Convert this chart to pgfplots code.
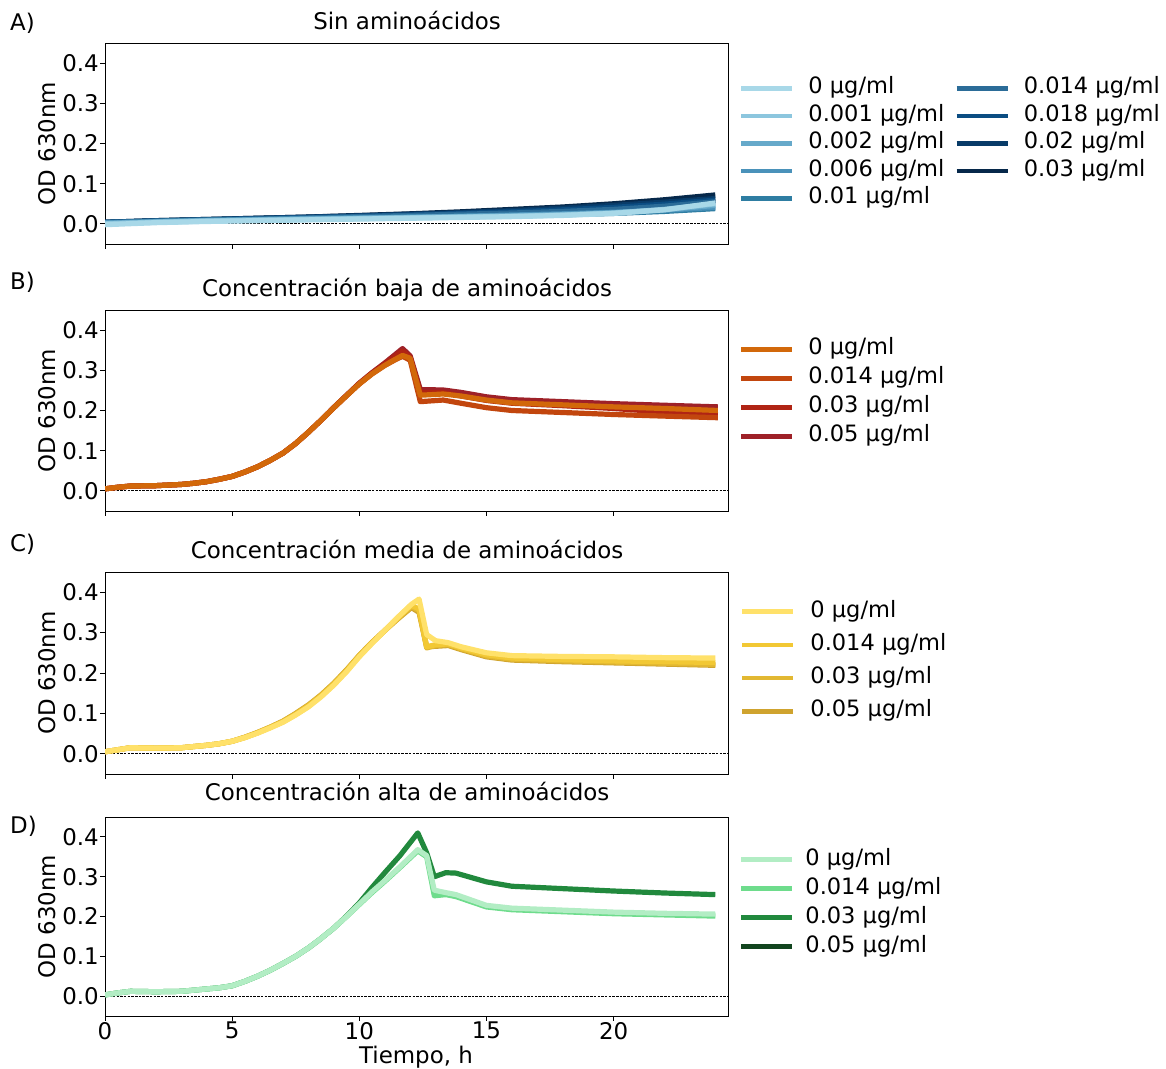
\documentclass[border=0pt]{standalone}
\usepackage{fontspec}
\setmainfont{DejaVu Sans}
\usepackage{pgfplots}
\pgfplotsset{compat=1.18}
\newcommand\fs{\fontsize{23}{27}\selectfont}
\newcommand\fl{\fontsize{22.6}{27}\selectfont}

% blues (no amino acids)
\definecolor{bA0}{HTML}{A8D8E8}
\definecolor{bA1}{HTML}{8CC6DE}
\definecolor{bA2}{HTML}{66A9CA}
\definecolor{bA3}{HTML}{4A92BA}
\definecolor{bA4}{HTML}{2E7DA2}
\definecolor{bA5}{HTML}{2B6C98}
\definecolor{bA6}{HTML}{0B4D82}
\definecolor{bA7}{HTML}{083B68}
\definecolor{bA8}{HTML}{06284A}
% oranges / reds (low)
\definecolor{oB0}{HTML}{D2680A}
\definecolor{oB1}{HTML}{C2460E}
\definecolor{oB2}{HTML}{B02414}
\definecolor{oB3}{HTML}{9E2128}
% yellows (medium)
\definecolor{yC0}{HTML}{FFE16A}
\definecolor{yC1}{HTML}{F2C834}
\definecolor{yC2}{HTML}{E2B832}
\definecolor{yC3}{HTML}{CFA32E}
% greens (high)
\definecolor{gD0}{HTML}{B2EDC4}
\definecolor{gD1}{HTML}{6EDC8C}
\definecolor{gD2}{HTML}{21893D}
\definecolor{gD3}{HTML}{12451F}

\pgfplotsset{
  panel/.style={
    scale only axis, width=623bp,
    xmin=0, xmax=24.5, ymin=-0.05, ymax=0.45,
    tick pos=left, tick align=outside,
    major tick length=5bp,
    every tick/.style={black, line width=0.8bp},
    axis line style={black, line width=0.9bp},
    xtick={0,5,10,15,20},
    ytick={0,0.1,0.2,0.3,0.4},
    yticklabels={0.0,0.1,0.2,0.3,0.4},
    xticklabels={},
    ticklabel style={font=\fs},
    yticklabel style={inner xsep=1bp},
    xticklabel style={inner ysep=1bp},
    /pgf/number format/assume math mode=true,
    clip=true,
    legend cell align=left,
    legend image code/.code={\draw[##1, line width=4.4bp] (0bp,0bp) -- (51bp,0bp);},
    legend style={draw=none, fill=none, inner sep=0pt, outer sep=0pt, font=\fl,
      anchor=north west,
      nodes={inner sep=0pt, outer sep=0pt, text height=16bp, text depth=5bp},
      column sep=0bp,
      /tikz/every odd column/.style={column sep=14bp},
      /tikz/every even column/.style={column sep=10bp}},
  },
  crv/.style={line width=5.2bp, line join=round},
  zeroline/.style={black, line width=0.8bp, dash pattern=on 2.5bp off 1.2bp},
}

% Panel A: growth without amino acids
\pgfplotstableread{
t    c0     c1     c2     c3     c4     c5     c6     c7     c8
0   -0.002  0.000  0.001  0.003  0.002  0.003  0.004  0.004  0.004
2    0.003  0.004  0.005  0.005  0.006  0.007  0.007  0.008  0.008
4    0.006  0.007  0.008  0.008  0.009  0.010  0.010  0.011  0.011
6    0.008  0.009  0.010  0.010  0.011  0.012  0.013  0.014  0.014
8    0.010  0.011  0.012  0.013  0.013  0.015  0.016  0.017  0.017
10   0.012  0.013  0.014  0.015  0.015  0.018  0.019  0.020  0.021
12   0.014  0.015  0.016  0.017  0.017  0.021  0.022  0.024  0.025
14   0.016  0.017  0.018  0.019  0.019  0.024  0.026  0.028  0.030
16   0.018  0.019  0.020  0.022  0.021  0.027  0.030  0.033  0.036
18   0.021  0.022  0.023  0.025  0.023  0.031  0.035  0.039  0.042
20   0.026  0.027  0.027  0.029  0.026  0.036  0.041  0.046  0.050
22   0.035  0.036  0.035  0.034  0.031  0.044  0.049  0.054  0.060
24   0.052  0.050  0.046  0.041  0.038  0.055  0.059  0.063  0.072
}\dataA

% Panel B: low amino acid concentration
\pgfplotstableread{
t     c0     c1     c2     c3
0     0.005  0.005  0.005  0.005
0.5   0.009  0.009  0.009  0.009
1     0.012  0.012  0.012  0.012
2     0.013  0.013  0.013  0.013
3     0.016  0.016  0.016  0.016
3.5   0.019  0.019  0.019  0.019
4     0.023  0.023  0.023  0.023
4.5   0.029  0.029  0.029  0.029
5     0.036  0.036  0.036  0.036
5.5   0.047  0.047  0.047  0.047
6     0.060  0.060  0.060  0.060
6.5   0.076  0.076  0.076  0.076
7     0.094  0.094  0.094  0.094
7.5   0.118  0.118  0.118  0.118
8     0.146  0.146  0.146  0.146
8.5   0.176  0.176  0.176  0.176
9     0.207  0.207  0.207  0.208
9.5   0.237  0.237  0.237  0.238
10    0.266  0.266  0.267  0.268
10.5  0.291  0.291  0.293  0.294
11    0.312  0.312  0.316  0.318
11.35 0.325  0.324  0.332  0.336
11.7  0.337  0.335  0.348  0.354
12.0  0.330  0.325  0.332  0.336
12.4  0.238  0.222  0.245  0.252
13.3  0.241  0.226  0.244  0.251
14    0.236  0.218  0.236  0.245
15    0.226  0.207  0.225  0.234
16    0.219  0.200  0.218  0.227
18    0.214  0.195  0.212  0.222
20    0.209  0.190  0.205  0.217
22    0.205  0.186  0.196  0.213
24.1  0.200  0.182  0.188  0.209
}\dataB

% Panel C: medium amino acid concentration
\pgfplotstableread{
t     c0     c1     c2     c3
0     0.005  0.005  0.005  0.005
0.5   0.010  0.010  0.010  0.010
1     0.015  0.015  0.015  0.015
2     0.014  0.014  0.014  0.014
3     0.015  0.015  0.015  0.015
3.5   0.018  0.018  0.018  0.018
4     0.021  0.021  0.021  0.021
4.5   0.025  0.025  0.025  0.025
5     0.031  0.031  0.031  0.031
5.5   0.040  0.040  0.041  0.041
6     0.051  0.052  0.052  0.053
6.5   0.064  0.065  0.066  0.066
7     0.078  0.079  0.080  0.081
7.5   0.096  0.097  0.099  0.100
8     0.116  0.118  0.120  0.121
8.5   0.141  0.143  0.145  0.146
9     0.170  0.172  0.174  0.175
9.5   0.203  0.205  0.207  0.208
10    0.240  0.242  0.243  0.244
10.5  0.273  0.275  0.275  0.276
11    0.305  0.305  0.305  0.305
11.5  0.337  0.336  0.334  0.333
12.05 0.370  0.368  0.365  0.362
12.35 0.383  0.358  0.354  0.350
12.65 0.295  0.265  0.262  0.265
13    0.280  0.270  0.268  0.266
13.5  0.275  0.272  0.270  0.268
14    0.265  0.262  0.260  0.258
15    0.250  0.245  0.242  0.240
16    0.243  0.237  0.234  0.232
18    0.241  0.233  0.230  0.228
20    0.240  0.230  0.227  0.225
22    0.238  0.228  0.224  0.222
24    0.237  0.226  0.221  0.219
}\dataC

% Panel D: high amino acid concentration
\pgfplotstableread{
t     c0     c1     c2
0     0.003  0.003  0.003
0.5   0.008  0.008  0.008
1     0.012  0.012  0.012
2     0.011  0.011  0.011
3     0.012  0.012  0.012
3.5   0.015  0.015  0.015
4     0.018  0.018  0.018
4.5   0.021  0.021  0.021
5     0.026  0.026  0.026
5.5   0.037  0.037  0.037
6     0.050  0.050  0.050
6.5   0.065  0.065  0.065
7     0.082  0.082  0.082
7.5   0.100  0.100  0.100
8     0.121  0.121  0.121
8.5   0.145  0.145  0.145
9     0.171  0.171  0.171
9.5   0.200  0.200  0.201
10    0.231  0.230  0.234
10.5  0.262  0.260  0.273
11    0.290  0.288  0.310
11.6  0.325  0.323  0.353
12.3  0.368  0.365  0.410
12.65 0.353  0.350  0.360
12.95 0.266  0.252  0.300
13.4  0.260  0.255  0.310
13.8  0.255  0.250  0.309
15    0.228  0.224  0.287
16    0.221  0.217  0.276
18    0.216  0.212  0.270
20    0.211  0.207  0.264
22    0.208  0.204  0.259
24    0.206  0.201  0.255
}\dataD

\begin{document}
\begin{tikzpicture}[x=1bp,y=1bp]
\useasboundingbox (0,0) rectangle (1166,1069);

% ---------------- A ----------------
\begin{axis}[panel, height=201bp, at={(105bp,825bp)}, anchor=south west,
  legend columns=5, transpose legend, reverse legend,
  legend style={at={(1.0177,0.826)}, row sep=6.5bp}]
\addplot[zeroline, forget plot] coordinates {(-1,0) (26,0)};
\addplot[crv, bA8] table[x=t,y=c8] {\dataA}; \addlegendentry{0.03 µg/ml}
\addplot[crv, bA7] table[x=t,y=c7] {\dataA}; \addlegendentry{0.02 µg/ml}
\addplot[crv, bA6] table[x=t,y=c6] {\dataA}; \addlegendentry{0.018 µg/ml}
\addplot[crv, bA5] table[x=t,y=c5] {\dataA}; \addlegendentry{0.014 µg/ml}
\addplot[crv, bA4] table[x=t,y=c4] {\dataA}; \addlegendentry{0.01 µg/ml}
\addplot[crv, bA3] table[x=t,y=c3] {\dataA}; \addlegendentry{0.006 µg/ml}
\addplot[crv, bA2] table[x=t,y=c2] {\dataA}; \addlegendentry{0.002 µg/ml}
\addplot[crv, bA1] table[x=t,y=c1] {\dataA}; \addlegendentry{0.001 µg/ml}
\addplot[crv, bA0] table[x=t,y=c0] {\dataA}; \addlegendentry{0 µg/ml}
\end{axis}

% ---------------- B ----------------
\begin{axis}[panel, height=201bp, at={(105bp,558bp)}, anchor=south west,
  reverse legend,
  legend style={at={(1.0177,0.8557)}, row sep=8bp}]
\addplot[zeroline, forget plot] coordinates {(-1,0) (26,0)};
\addplot[crv, oB3] table[x=t,y=c3] {\dataB}; \addlegendentry{0.05 µg/ml}
\addplot[crv, oB2] table[x=t,y=c2] {\dataB}; \addlegendentry{0.03 µg/ml}
\addplot[crv, oB1] table[x=t,y=c1] {\dataB}; \addlegendentry{0.014 µg/ml}
\addplot[crv, oB0] table[x=t,y=c0] {\dataB}; \addlegendentry{0 µg/ml}
\end{axis}

% ---------------- C ----------------
\begin{axis}[panel, height=202bp, at={(105bp,295bp)}, anchor=south west,
  reverse legend,
  legend style={at={(1.0193,0.856)}, row sep=12.3bp,
    /tikz/every odd column/.style={column sep=15bp}}]
\addplot[zeroline, forget plot] coordinates {(-1,0) (26,0)};
\addplot[crv, yC3] table[x=t,y=c3] {\dataC}; \addlegendentry{0.05 µg/ml}
\addplot[crv, yC2] table[x=t,y=c2] {\dataC}; \addlegendentry{0.03 µg/ml}
\addplot[crv, yC1] table[x=t,y=c1] {\dataC}; \addlegendentry{0.014 µg/ml}
\addplot[crv, yC0] table[x=t,y=c0] {\dataC}; \addlegendentry{0 µg/ml}
\end{axis}

% ---------------- D ----------------
\begin{axis}[panel, height=199bp, at={(105bp,53bp)}, anchor=south west,
  xticklabels={0,5,10,15,20},
  reverse legend,
  legend style={at={(1.0177,0.839)}, row sep=8bp,
    /tikz/every odd column/.style={column sep=11bp}}]
\addplot[zeroline, forget plot] coordinates {(-1,0) (26,0)};
\addlegendimage{gD3}\addlegendentry{0.05 µg/ml}
\addplot[crv, gD2] table[x=t,y=c2] {\dataD}; \addlegendentry{0.03 µg/ml}
\addplot[crv, gD1] table[x=t,y=c1] {\dataD}; \addlegendentry{0.014 µg/ml}
\addplot[crv, gD0] table[x=t,y=c0] {\dataD}; \addlegendentry{0 µg/ml}
\end{axis}

% titles, panel letters and axis labels
\begin{scope}[every node/.style={font=\fs, inner sep=0pt}]
\node[anchor=base] at (407,1039) {Sin aminoácidos};
\node[anchor=base] at (407,772) {Concentración baja de aminoácidos};
\node[anchor=base] at (407,510) {Concentración media de aminoácidos};
\node[anchor=base] at (407,268) {Concentración alta de aminoácidos};
\node[anchor=base west] at (10,1038) {A)};
\node[anchor=base west] at (10,779) {B)};
\node[anchor=base west] at (10,517) {C)};
\node[anchor=base west] at (10,235) {D)};
\node[rotate=90] at (47,925.5) {OD 630nm};
\node[rotate=90] at (47,658.5) {OD 630nm};
\node[rotate=90] at (47,396) {OD 630nm};
\node[rotate=90] at (47,152.5) {OD 630nm};
\node[anchor=base] at (416,5) {Tiempo, h};
\end{scope}
\end{tikzpicture}
\end{document}
